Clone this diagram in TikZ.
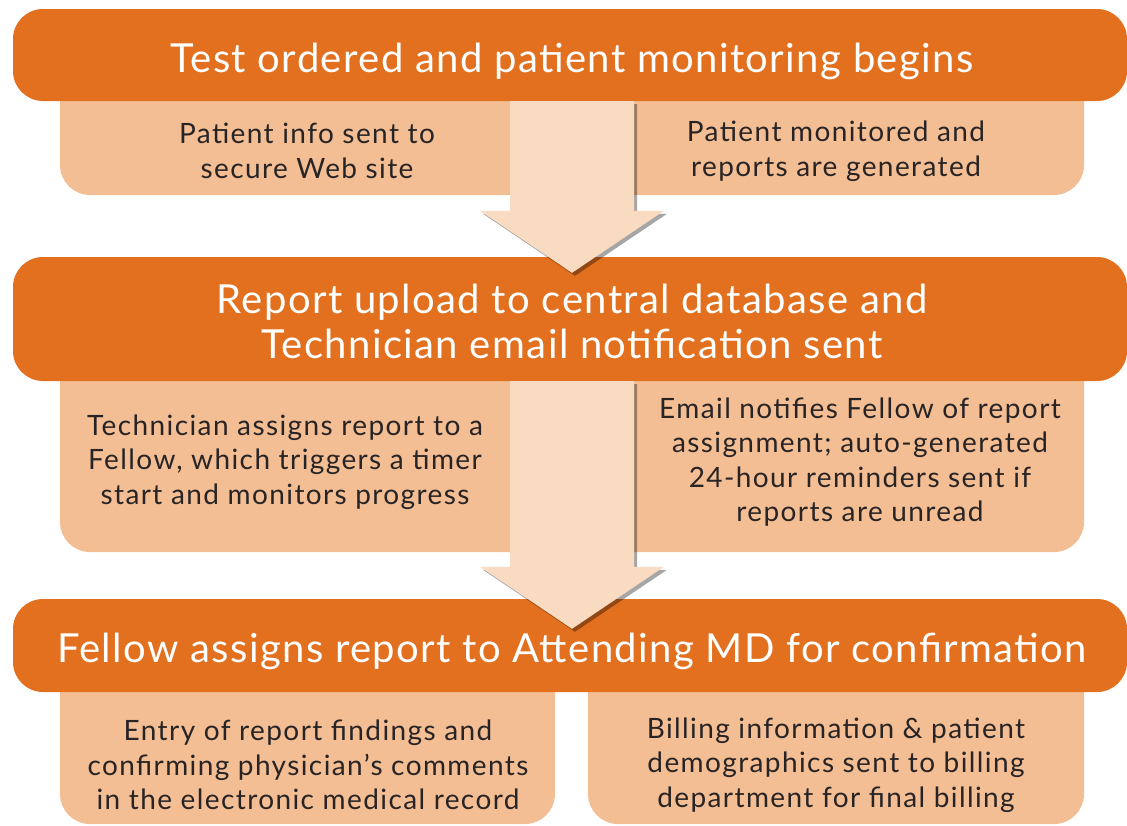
\documentclass[tikz,border=0pt]{standalone}
\usepackage{fontspec}
\setmainfont{Lato}
\usepackage{xcolor}
\usetikzlibrary{calc}
\usetikzlibrary{shadows}

\definecolor{barorange}{RGB}{226,112,31}
\definecolor{subpeach}{RGB}{244,190,148}
\definecolor{arrowpeach}{RGB}{249,219,194}
\definecolor{textgray}{RGB}{40,36,37}

\tikzset{
	headbar/.style={fill=barorange, rounded corners=30pt, minimum width=1114pt},
	headtext/.style={text=white, align=center,
		font=\fontsize{40}{45}\selectfont\addfontfeatures{LetterSpace=3.5}},
	subbox/.style={fill=subpeach, rounded corners=30pt},
	subtext/.style={text=textgray, align=center,
		font=\fontsize{28}{34.5}\selectfont\addfontfeatures{LetterSpace=5}},
	arrowbody/.style={fill=arrowpeach,
		drop shadow={shadow xshift=3pt, shadow yshift=-3pt, fill=black, opacity=.35}}
}

% block arrow: from the foot of one bar down to a tip
\newcommand{\flowarrow}[2]{%
	\fill[arrowbody] let \p1=(#1), \p2=(#2) in
		(\x2-62,\y1) -- (\x2-62,\y2+62) -- (\x2-92,\y2+62) -- (\p2)
		-- (\x2+92,\y2+62) -- (\x2+62,\y2+62) -- (\x2+62,\y1) -- cycle;}

\begin{document}
\begin{tikzpicture}[x=1pt, y=-1pt]
	\useasboundingbox (0,0) rectangle (1127,825);
	
	% Peach boxes under the bars
	\node[subbox, minimum width=1024pt, minimum height=125pt] (sub1) at (572,132.5) {};
	\node[subbox, minimum width=1024pt, minimum height=202pt] (sub2) at (572,451) {};
	\node[subbox, minimum width=495pt, minimum height=164pt] (sub3l) at (307.5,742) {};
	\node[subbox, minimum width=496pt, minimum height=164pt] (sub3r) at (836,742) {};
	
	% Texts of the boxes
	\node[subtext] (t1l) at (307,151) {Patient info sent to\\secure Web site};
	\node[subtext] (t1r) at (836,151) {Patient monitored and\\reports are generated};
	\node[subtext] (t2l) at (285,462) {Technician assigns report to a\\Fellow, which triggers a timer\\start and monitors progress};
	\node[subtext] (t2r) at (860,462) {Email notifies Fellow of report\\assignment; auto-generated\\24-hour reminders sent if\\reports are unread};
	\node[subtext] (t3l) at (308,765) {Entry of report findings and\\confirming physician’s comments\\in the electronic medical record};
	\node[subtext] (t3r) at (836,765) {Billing information \& patient\\demographics sent to billing\\department for final billing};
	
	% Orange bars
	\node[headbar, minimum height=92pt] (bar1) at (570,55) {};
	\node[headbar, minimum height=124pt] (bar2) at (570,319) {};
	\node[headbar, minimum height=93pt] (bar3) at (570,645.5) {};
	\node[headtext] (h1) at (572,61) {Test ordered and patient monitoring begins};
	\node[headtext] (h2) at (572,321) {Report upload to central database and\\Technician email notification sent};
	\node[headtext] (h3) at (572,651.5) {Fellow assigns report to Attending MD for confirmation};
	
	% Arrows between the bars
	\coordinate (tip1) at ($(bar2.north)+(2,16)$);
	\coordinate (tip2) at ($(bar3.north)+(2,30)$);
	\flowarrow{bar1.south}{tip1}
	\flowarrow{bar2.south}{tip2}
	
\end{tikzpicture}
\end{document}
